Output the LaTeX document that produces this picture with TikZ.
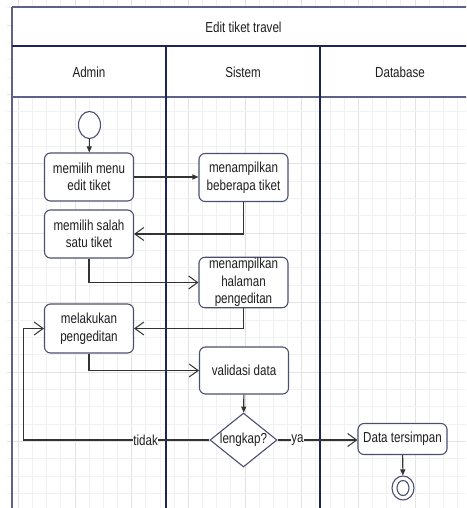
\documentclass[tikz,border=0pt]{standalone}
\usepackage{fontspec}
\setmainfont{Liberation Sans}[FakeStretch=0.8]
\usetikzlibrary{arrows.meta,shapes.geometric}
\definecolor{lane}{HTML}{1F2456}
\definecolor{frame}{HTML}{5E6288}
\definecolor{nodeb}{HTML}{4C5070}
\definecolor{conn}{HTML}{333333}
\definecolor{txt}{HTML}{1E1E1E}
\definecolor{gridminor}{HTML}{F1F1F1}
\definecolor{gridmajor}{HTML}{E3E3E3}
\begin{document}
\begin{tikzpicture}[x=1pt,y=-1pt,
  every node/.style={text=txt,font=\fontsize{14.5}{17.5}\selectfont},
  act/.style={draw=nodeb,line width=1.1pt,rounded corners=6pt,fill=white,align=center,inner sep=1pt,minimum width=89pt,minimum height=48pt},
  hdr/.style={font=\fontsize{14.5}{17}\selectfont},
  conn/.style={draw=conn,line width=1.1pt},
  fa/.style={conn,-{Triangle[length=6pt,width=5pt]}},
  oa/.style={conn,-{Straight Barb[length=9pt,width=13pt,line width=1pt]}},
  lbl/.style={fill=white,inner sep=0.5pt}]
\useasboundingbox (0,0) rectangle (466,508);
\clip (0,0) rectangle (466,508);
% background grid
\foreach \k in {0,...,32}{
  \pgfmathtruncatemacro{\m}{mod(\k,4)}
  \ifnum\m=0 \draw[gridmajor,line width=0.9pt] ({18.33+14.167*\k},0) -- ({18.33+14.167*\k},508);
  \else \draw[gridminor,line width=0.9pt] ({18.33+14.167*\k},0) -- ({18.33+14.167*\k},508); \fi}
\foreach \k in {-1,...,28}{
  \pgfmathtruncatemacro{\m}{mod(\k+4,4)}
  \ifnum\m=0 \draw[gridmajor,line width=0.9pt] (7,{25+17.35*\k}) -- (466,{25+17.35*\k});
  \else \draw[gridminor,line width=0.9pt] (7,{25+17.35*\k}) -- (466,{25+17.35*\k}); \fi}
% swimlane frame
\fill[white] (12,7.5) rectangle (478,97);
\draw[frame,line width=2pt] (12,7.5) -- (478,7.5);
\draw[frame,line width=1.5pt] (12,7.5) -- (12,508);
\draw[lane,line width=1.4pt] (12,46) -- (478,46);
\draw[frame,line width=1.6pt] (12,97) -- (478,97);
\draw[lane,line width=1.2pt] (166,46) -- (166,508);
\draw[lane,line width=1.2pt] (320,46) -- (320,508);
\node[hdr] (title) at (243.5,27.5) {Edit tiket travel};
\node[hdr] (hadmin) at (89,72) {Admin};
\node[hdr] (hsistem) at (243,72) {Sistem};
\node[hdr] (hdb) at (400,72) {Database};
% nodes
\node[ellipse,draw=nodeb,line width=1.1pt,fill=white,minimum width=22pt,minimum height=27pt,inner sep=0pt] (start) at (89.5,125) {};
\node[act] (edit) at (89,177) {memilih menu\\edit tiket};
\node[act] (beberapa) at (243.5,177.5) {menampilkan\\beberapa tiket};
\node[act] (salah) at (89,234) {memilih salah\\satu tiket};
\node[act,minimum height=49pt] (halaman) at (243.5,282.5) {menampilkan\\halaman\\pengeditan};
\node[act,minimum height=49pt] (melakukan) at (89,328.5) {melakukan\\pengeditan};
\node[act,minimum height=47pt] (validasi) at (244,370.5) {validasi data};
\node[diamond,draw=nodeb,line width=1.1pt,fill=white,minimum width=67pt,minimum height=54pt,inner sep=0pt,label=center:{lengkap?}] (dia) at (243.5,440) {};
\node[act,minimum height=31pt] (data) at (402.5,439) {Data tersimpan};
\node[ellipse,draw=nodeb,line width=1.1pt,fill=white,minimum width=22pt,minimum height=24pt,inner sep=0pt] (end) at (403,488) {};
\node[ellipse,draw=nodeb,line width=1.1pt,minimum width=12pt,minimum height=15pt,inner sep=0pt] (endin) at (end) {};
% connectors
\coordinate (tl) at (23.3,440);
\draw[fa] (start) -- (edit);
\draw[fa] (edit.east) -- (edit.east -| beberapa.west);
\draw[oa] (beberapa.south) |- (salah.east);
\draw[oa] (salah.south) |- (halaman.west);
\draw[oa] (halaman.south) |- (melakukan.east);
\draw[oa] (melakukan.south) |- (validasi.west);
\draw[fa] (validasi) -- (dia);
\draw[oa] (dia.west) -- node[lbl,pos=0.343] (ltidak) {tidak} (tl) |- (melakukan.west);
\draw[oa] (dia.east) -- node[lbl,pos=0.25] (lya) {ya} (dia.east -| data.west);
\draw[fa] (data) -- (end);
\end{tikzpicture}
\end{document}
